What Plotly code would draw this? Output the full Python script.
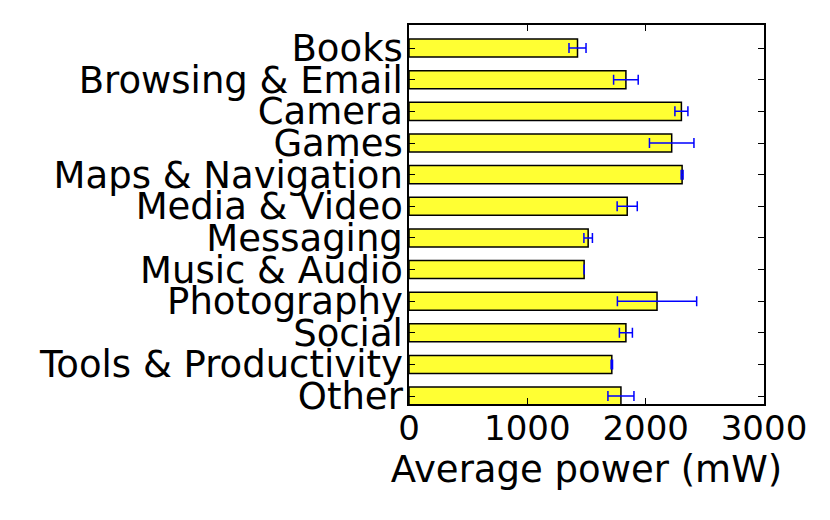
import plotly.graph_objects as go

# categories listed top to bottom as in the chart
categories = ["Books", "Browsing & Email", "Camera", "Games", "Maps & Navigation",
              "Media & Video", "Messaging", "Music & Audio", "Photography", "Social",
              "Tools & Productivity", "Other"]
avg_power = [1424, 1833, 2302, 2220, 2308, 1844, 1514, 1480, 2096, 1833, 1714, 1791]
power_err = [72, 104, 55, 188, 8, 85, 36, 0, 335, 55, 6, 110]
xtick_vals = [0, 1000, 2000, 3000]


def main():
    n = len(categories)
    # Books at the top, Other at the bottom
    ypos = [n - 1 - i for i in range(n)]

    fig = go.Figure(go.Bar(
        x=avg_power, y=ypos, orientation="h", width=0.57,
        marker=dict(color="#ffff33", line=dict(color="black", width=1.5)),
        error_x=dict(type="data", array=power_err, color="blue",
                     thickness=1.5, width=5),
    ))

    # page body adds 8px, margins account for it
    fig.update_layout(
        width=830, height=520,
        margin=dict(l=401, r=74, t=17, b=124),
        plot_bgcolor="white", paper_bgcolor="white",
        font=dict(family="DejaVu Sans", color="black"),
        showlegend=False,
    )
    fig.update_xaxes(
        range=[0, 3000], tickvals=xtick_vals, ticks="inside", ticklen=6,
        tickcolor="black", showgrid=False, zeroline=False,
        showline=True, linecolor="black", linewidth=1.5, mirror="ticks",
        tickfont=dict(size=34), ticklabelstandoff=-7,
        title=dict(text="Average power (mW)", font=dict(size=37), standoff=8),
    )
    fig.update_yaxes(
        range=[-0.25, 11.73], tickvals=ypos, ticktext=categories,
        ticks="inside", ticklen=6, tickcolor="black", showgrid=False,
        zeroline=False, showline=True, linecolor="black", linewidth=1.5,
        mirror="ticks", tickfont=dict(size=37), ticklabelstandoff=-3,
    )

    fig.write_html("out.html")


if __name__ == "__main__":
    main()
